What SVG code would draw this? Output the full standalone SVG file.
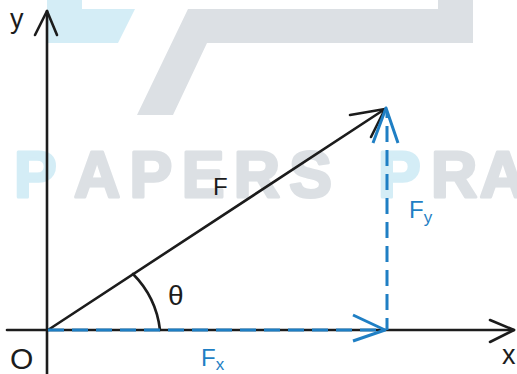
<svg xmlns="http://www.w3.org/2000/svg" width="517" height="374" viewBox="0 0 517 374">
<style>
.blk{fill:none;stroke:#1c1c1c;stroke-width:2.6;stroke-linecap:round;stroke-linejoin:round}
.blu{fill:none;stroke:#1f7fc4;stroke-width:3;stroke-linecap:butt;stroke-linejoin:round}
.dash{stroke-dasharray:16 8}
.lbl{font-family:"Liberation Sans","DejaVu Sans",sans-serif;fill:#1c1c1c}
.lblb{font-family:"Liberation Sans","DejaVu Sans",sans-serif;fill:#1f7fc4}
.wm{font-family:"Liberation Sans","DejaVu Sans",sans-serif;font-weight:700;font-size:64px;stroke-width:3;stroke-linejoin:round}
.wb{fill:#d4edf6;stroke:#d4edf6}
.wg{fill:#dce0e4;stroke:#dce0e4}
</style>
<rect width="517" height="374" fill="#ffffff"/>
<g id="watermark">
<polygon points="47,0 82,0 82,9 135,9 118,43 47,43" fill="#d4edf6"/>
<polygon points="438,0 473,0 473,43 207,43 173,115 137,115 188,9 438,9" fill="#dce0e4"/>
<text class="wm wb" x="14" y="197">P</text>
<text class="wm wg" x="74" y="197" textLength="258" lengthAdjust="spacing">APERS</text>
<text class="wm wb" x="378" y="197">P</text>
<text class="wm wg" x="431" y="197" textLength="95" lengthAdjust="spacing">RA</text>
</g>
<g id="connectors">
<g id="y-axis">
<line class="blk" x1="47" y1="374" x2="47" y2="11"/>
<polyline class="blk" points="35,35 47,11 57,35"/>
</g>
<g id="x-axis">
<line class="blk" x1="7" y1="330" x2="514" y2="330"/>
<polyline class="blk" points="490,320 514,330 490,342"/>
</g>
<g id="F-vector">
<line class="blk" x1="48" y1="330" x2="385" y2="109"/>
<polyline class="blk" points="350,115 385,109 371,137"/>
</g>
<g id="theta-arc">
<path class="blk" d="M133,274 A95,95 0 0 1 160,330"/>
</g>
<g id="Fx-vector">
<line class="blu dash" x1="48" y1="330" x2="384" y2="330"/>
<polyline class="blu" points="353,315 385,330 353,341"/>
</g>
<g id="Fy-vector">
<line class="blu dash" x1="387" y1="330" x2="387" y2="112" stroke-dashoffset="4"/>
<polyline class="blu" points="373,143 386,108 398,143"/>
</g>
</g>
<g id="labels">
<text id="label-y" class="lbl" x="10" y="28" font-size="27">y</text>
<text id="label-x" class="lbl" x="502" y="364" font-size="27">x</text>
<text id="label-O" class="lbl" x="10" y="369" font-size="30">O</text>
<text id="label-F" class="lbl" x="213" y="195" font-size="24">F</text>
<text id="label-theta" class="lbl" x="168" y="305" font-size="28">θ</text>
<text id="label-Fx" class="lblb" x="201" y="366" font-size="24">F<tspan font-size="17" dy="4">x</tspan></text>
<text id="label-Fy" class="lblb" x="409" y="218" font-size="24">F<tspan font-size="17" dy="5">y</tspan></text>
</g>
</svg>
